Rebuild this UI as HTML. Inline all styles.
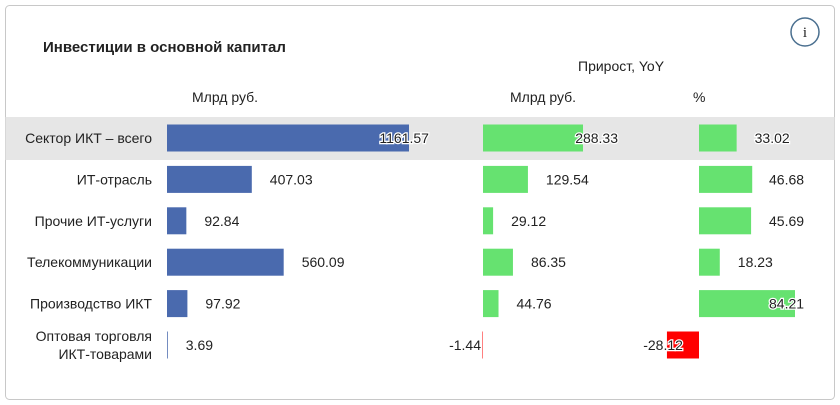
<!DOCTYPE html>
<html><head><meta charset="utf-8"><style>
body{margin:0;background:#fff;font-family:"Liberation Sans",sans-serif}
svg{display:block}
text{font-family:"Liberation Sans",sans-serif;fill:#222}
</style></head><body>
<svg width="840" height="405">
<rect x="5.5" y="5.5" width="829" height="394" rx="4" fill="#fff" stroke="#c8c8c8"/>
<rect x="5.5" y="117" width="829" height="43" fill="#e6e6e6"/>
<text x="43" y="52" font-size="15" font-weight="bold" fill="#222">Инвестиции в основной капитал</text>
<g><circle cx="805" cy="32" r="14" fill="#fff" stroke="#4a6f8f" stroke-width="1.5"/><text x="805" y="37" font-size="15" text-anchor="middle" style="font-family:'Liberation Serif',serif" fill="#4a6f8f">i</text></g>
<text x="578" y="71" font-size="14">Прирост, YoY</text>
<text x="192" y="102" font-size="14">Млрд руб.</text>
<text x="510" y="102" font-size="14">Млрд руб.</text>
<text x="693" y="102" font-size="14">%</text>
<g id="g"></g>
</svg>
<script>
const categories=["Сектор ИКТ – всего","ИТ-отрасль","Прочие ИТ-услуги","Телекоммуникации","Производство ИКТ","Оптовая торговля|ИКТ-товарами"];
const investValues=[1161.57,407.03,92.84,560.09,97.92,3.69];
const growthValues=[288.33,129.54,29.12,86.35,44.76,-1.44];
const growthPctValues=[33.02,46.68,45.69,18.23,84.21,-28.12];
const NS="http://www.w3.org/2000/svg";
const g=document.getElementById('g');
function mk(t,a){const e=document.createElementNS(NS,t);for(const k in a)e.setAttribute(k,a[k]);g.appendChild(e);return e;}
const rowY=i=>138+i*41.4;
const cols=[
 {vals:investValues,x0:167,scale:242/1161.57,max:434,pos:"#4a6aae",neg:"#4a6aae",name:"invest"},
 {vals:growthValues,x0:483,scale:100/288.33,max:622,pos:"#66e270",neg:"#f00",name:"growth"},
 {vals:growthPctValues,x0:699,scale:96/84.21,max:808,pos:"#66e270",neg:"#f00",name:"growth-pct"}];
categories.forEach((c,i)=>{
  const y=rowY(i);
  const parts=c.split("|");
  parts.forEach((p,j)=>{
    const t=mk('text',{x:152,y:y+5+(j-(parts.length-1)/2)*18,'font-size':14,'text-anchor':'end'});
    
    
    t.textContent=p;
  });
  cols.forEach(col=>{
    const v=col.vals[i];const w=Math.abs(v)*col.scale;
    const x=v>=0?col.x0:col.x0-w;
    const r=mk('rect',{x:x,y:y-13.5,width:Math.max(w,0.5),height:27,fill:v>=0?col.pos:col.neg});
    
    
    const label=v.toFixed(2);const tw=label.length*7.8;
    let tx,anchor='start';
    if(v>=0){tx=Math.min(col.x0+w+18,col.max-tw);}
    else{tx=Math.min(col.x0-2,x+16);anchor='end';}
    const t=mk('text',{x:tx,y:y+5,'font-size':14,'text-anchor':anchor,stroke:'#fff','stroke-width':2.5,'paint-order':'stroke'});
    
    
    t.textContent=label;
  });
});
</script>
</body></html>
